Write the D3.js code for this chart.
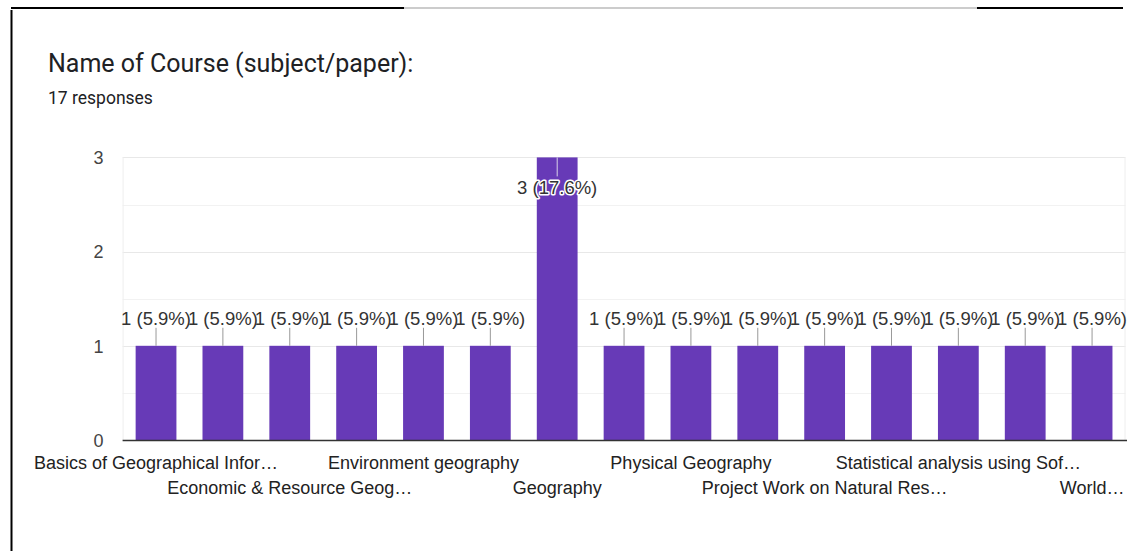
<!DOCTYPE html>
<html>
<head>
<meta charset="utf-8">
<script src="https://cdn.jsdelivr.net/npm/d3@7"></script>
<style>
  html, body { margin: 0; padding: 0; background: #fff; }
  svg { display: block; }
</style>
</head>
<body>
<svg id="chart" width="1127" height="551"></svg>
<script>
// ---- data ----
const title = "Name of Course (subject/paper):";
const subtitle = "17 responses";
const totalResponses = 17;
const categories = [
  "Basics of Geographical Information System",
  "Cartography",
  "Economic & Resource Geography",
  "Environment and Ecology",
  "Environment geography",
  "Evolution of Geographical Thought",
  "Geography",
  "Human Geography",
  "Physical Geography",
  "Population Geography",
  "Project Work on Natural Resources",
  "Regional Planning",
  "Statistical analysis using Software",
  "Urban Geography",
  "World Regional Geography"
];
const shownLabels = [
  "Basics of Geographical Infor…", null,
  "Economic & Resource Geog…", null,
  "Environment geography", null,
  "Geography", null,
  "Physical Geography", null,
  "Project Work on Natural Res…", null,
  "Statistical analysis using Sof…", null,
  "World…"
];
const counts = [1, 1, 1, 1, 1, 1, 3, 1, 1, 1, 1, 1, 1, 1, 1];
const yTicks = [0, 1, 2, 3];

// ---- layout ----
const svg = d3.select("#chart");
const plot = { left: 122.6, right: 1125.5, top: 157.4, bottom: 440 };

// frame lines
svg.append("line").attr("x1", 11).attr("x2", 404).attr("y1", 8).attr("y2", 8)
  .attr("stroke", "#000").attr("stroke-width", 2);
svg.append("line").attr("x1", 404).attr("x2", 977).attr("y1", 8).attr("y2", 8)
  .attr("stroke", "#cccccc").attr("stroke-width", 2);
svg.append("line").attr("x1", 977).attr("x2", 1123).attr("y1", 8).attr("y2", 8)
  .attr("stroke", "#000").attr("stroke-width", 2);
svg.append("line").attr("x1", 11.5).attr("x2", 11.5).attr("y1", 10).attr("y2", 551)
  .attr("stroke", "#000").attr("stroke-width", 2);

// titles
svg.append("text").attr("x", 48).attr("y", 72).text(title)
  .attr("font-family", "Roboto").attr("font-size", 25).attr("fill", "#202124");
svg.append("text").attr("x", 48).attr("y", 104).text(subtitle)
  .attr("font-family", "Roboto").attr("font-size", 17.5).attr("fill", "#202124");

const x = d3.scaleBand().domain(categories).range([plot.left, plot.right]).paddingInner(0.39).paddingOuter(0.195);
const y = d3.scaleLinear().domain([0, 3]).range([plot.bottom, plot.top]);

// gridlines (minor at 0.5)
const grid = svg.append("g");
d3.range(0, 3.01, 0.5).forEach(v => {
  if (v === 0) return;
  grid.append("line").attr("x1", plot.left).attr("x2", plot.right)
    .attr("y1", Math.round(y(v)) + 0.5).attr("y2", Math.round(y(v)) + 0.5)
    .attr("stroke", Number.isInteger(v) ? "#e8e8e8" : "#f2f2f2").attr("stroke-width", 1);
});
grid.append("line").attr("x1", plot.left + 0.5).attr("x2", plot.left + 0.5)
  .attr("y1", plot.top).attr("y2", plot.bottom).attr("stroke", "#eeeeee");
grid.append("line").attr("x1", plot.right - 0.5).attr("x2", plot.right - 0.5)
  .attr("y1", plot.top).attr("y2", plot.bottom).attr("stroke", "#eeeeee");

// y axis
const yAxis = d3.axisLeft(y).tickValues(yTicks).tickFormat(d3.format("d")).tickSize(0).tickPadding(19);
const yg = svg.append("g").attr("transform", `translate(${plot.left},0)`).call(yAxis);
yg.select(".domain").remove();
yg.selectAll("text").attr("font-family", "Liberation Sans, Arial").attr("font-size", 18).attr("fill", "#444").attr("dy", "0.35em");

// bars
svg.append("g").selectAll("rect").data(counts).join("rect")
  .attr("x", (d, i) => x(categories[i]))
  .attr("y", d => y(d))
  .attr("width", x.bandwidth())
  .attr("height", d => y(0) - y(d))
  .attr("fill", "#673ab7");

// baseline
svg.append("line").attr("x1", plot.left).attr("x2", 1127).attr("y1", y(0) + 0.5).attr("y2", y(0) + 0.5)
  .attr("stroke", "#333").attr("stroke-width", 1.5);

// x axis labels (alternating rows, every second shown)
const xAxis = d3.axisBottom(x).tickSize(0).tickFormat((d, i) => shownLabels[i] || "");
const xg = svg.append("g").attr("transform", `translate(0,${plot.bottom})`).call(xAxis);
xg.select(".domain").remove();
xg.selectAll("text")
  .attr("font-family", "Liberation Sans, Arial").attr("font-size", 18).attr("fill", "#222")
  .attr("dy", null)
  .attr("y", (d, i) => (i % 4 === 0) ? 29 : 54);

// annotations
const fmtPct = v => `${v} (${(v / totalResponses * 100).toFixed(1)}%)`;
const ann = svg.append("g");
counts.forEach((v, i) => {
  const cx = x(categories[i]) + x.bandwidth() / 2;
  const top = y(v);
  const inside = top - 30 < plot.top;
  if (!inside) {
    ann.append("line").attr("x1", cx).attr("x2", cx).attr("y1", top).attr("y2", top - 18)
      .attr("stroke", "#999").attr("stroke-width", 1);
    ann.append("text").attr("x", cx).attr("y", top - 21).attr("text-anchor", "middle")
      .text(fmtPct(v)).attr("font-family", "Liberation Sans, Arial").attr("font-size", 18.5).attr("fill", "#333");
  } else {
    ann.append("line").attr("x1", cx).attr("x2", cx).attr("y1", top).attr("y2", top + 19)
      .attr("stroke", "#d8d0e8").attr("stroke-width", 1);
    ann.append("text").attr("x", cx).attr("y", top + 37).attr("text-anchor", "middle")
      .text(fmtPct(v)).attr("font-family", "Liberation Sans, Arial").attr("font-size", 18.5).attr("fill", "#333")
      .attr("stroke", "#fff").attr("stroke-width", 3).attr("paint-order", "stroke").attr("stroke-linejoin", "round");
  }
});
</script>
</body>
</html>
